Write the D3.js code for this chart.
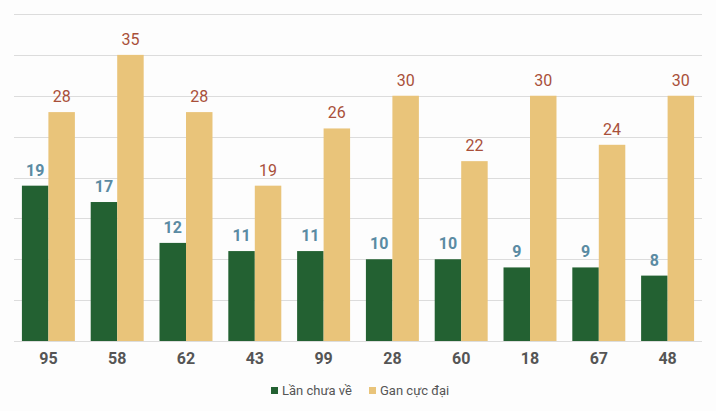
<!DOCTYPE html>
<html>
<head>
<meta charset="utf-8">
<script src="https://cdn.jsdelivr.net/npm/d3@7"></script>
<style>
  body { margin: 0; background: #fdfdfd; }
  svg { font-family: Roboto, sans-serif; display: block; }
</style>
</head>
<body>
<div class="chartHolder"></div>
<script>
var categories = ["95", "58", "62", "43", "99", "28", "60", "18", "67", "48"];
var lanChuaVe = [19, 17, 12, 11, 11, 10, 10, 9, 9, 8];
var ganCucDai = [28, 35, 28, 19, 26, 30, 22, 30, 24, 30];
var seriesNames = ["Lần chưa về", "Gan cực đại"];
var colors = ["#236132", "#e9c47a"];
var labelColors = ["#5b8ba3", "#a9503a"];

var width = 716;
var height = 411;
var plotLeft = 14, plotRight = 702, plotTop = 14, plotBottom = 341;

var svg = d3
  .select(".chartHolder")
  .append("svg")
  .attr("width", width)
  .attr("height", height);

var xScale = d3.scaleBand().domain(categories).range([plotLeft, plotRight]).paddingInner(0.23).paddingOuter(0.115);
var inner = d3.scaleBand().domain([0, 1]).range([0, xScale.bandwidth()]);
var yScale = d3.scaleLinear().domain([0, 40]).range([plotBottom, plotTop]);

// grid lines
svg
  .append("g")
  .selectAll("line")
  .data(yScale.ticks(8))
  .enter()
  .append("line")
  .attr("x1", plotLeft)
  .attr("x2", plotRight)
  .attr("y1", (d) => Math.round(yScale(d)) + 0.5)
  .attr("y2", (d) => Math.round(yScale(d)) + 0.5)
  .attr("stroke", "#dcdcdc")
  .attr("stroke-width", 1);

var series = [lanChuaVe, ganCucDai];

series.forEach(function (vals, s) {
  var g = svg.append("g");
  g.selectAll("rect")
    .data(vals)
    .enter()
    .append("rect")
    .attr("x", (d, i) => xScale(categories[i]) + inner(s))
    .attr("y", (d) => yScale(d))
    .attr("width", inner.bandwidth())
    .attr("height", (d) => yScale(0) - yScale(d))
    .attr("fill", colors[s]);

  g.selectAll("text")
    .data(vals)
    .enter()
    .append("text")
    .attr("x", (d, i) => xScale(categories[i]) + inner(s) + inner.bandwidth() / 2)
    .attr("y", (d) => yScale(d) - 10)
    .attr("text-anchor", "middle")
    .attr("font-size", "16px")
    .attr("font-weight", s === 0 ? "bold" : "normal")
    .attr("fill", labelColors[s])
    .text((d) => d);
});

// x axis
var xAxis = d3.axisBottom(xScale).tickSize(0).tickPadding(12);
var xAxisGroup = svg
  .append("g")
  .attr("transform", "translate(0," + plotBottom + ")")
  .call(xAxis);
xAxisGroup.select(".domain").remove();
xAxisGroup
  .selectAll("text")
  .attr("font-family", "Roboto, sans-serif")
  .attr("font-size", "16px")
  .attr("font-weight", "bold")
  .attr("fill", "#555");

// legend
var legend = svg.append("g").attr("transform", "translate(271,395)");
var legendX = [0, 98];
seriesNames.forEach(function (name, i) {
  var item = legend.append("g").attr("transform", "translate(" + legendX[i] + ",0)");
  item.append("rect").attr("x", 0).attr("y", -8).attr("width", 7).attr("height", 7).attr("fill", colors[i]);
  item
    .append("text")
    .attr("x", 11)
    .attr("y", 0)
    .attr("font-size", "13px")
    .attr("fill", "#555")
    .text(name);
});
</script>
</body>
</html>
